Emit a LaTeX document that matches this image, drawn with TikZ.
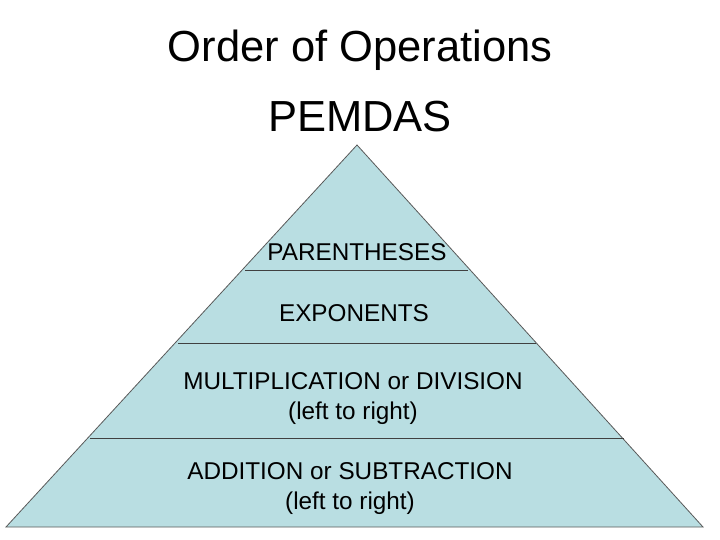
\documentclass[tikz,border=0pt]{standalone}
\usepackage{fontspec}
\setmainfont{Liberation Sans}
\begin{document}
\begin{tikzpicture}[x=1pt,y=-1pt,
  lbl/.style={font=\fontsize{24.3}{30}\selectfont,align=center,inner sep=0pt},
  ttl/.style={font=\fontsize{43.5}{50}\selectfont,inner sep=0pt},
  sep/.style={draw=black!75,line width=0.8pt}]
\useasboundingbox (0,0) rectangle (720,540);
\coordinate (apex) at (357,145);
\coordinate (bl) at (6,527);
\coordinate (br) at (703,527);
\fill[fill={rgb,255:red,185;green,222;blue,226},draw=black!65,line width=0.8pt] (apex)--(br)--(bl)--cycle;
\coordinate (a1) at (245,270); \coordinate (b1) at (468,270);
\coordinate (a2) at (178,343); \coordinate (b2) at (536,343);
\coordinate (a3) at (90,438); \coordinate (b3) at (624,438);
\draw[sep] (a1)--(b1); \draw[sep] (a2)--(b2); \draw[sep] (a3)--(b3);
\node[ttl] (t1) at (360,50) {Order of Operations};
\node[ttl] (t2) at (360,117) {PEMDAS};
\node[lbl] (p) at (357,252) {PARENTHESES};
\node[lbl] (e) at (354,313) {EXPONENTS};
\node[lbl] (m) at (353,399) {MULTIPLICATION or DIVISION\\(left to right)};
\node[lbl] (s) at (350,489) {ADDITION or SUBTRACTION\\(left to right)};
\end{tikzpicture}
\end{document}
